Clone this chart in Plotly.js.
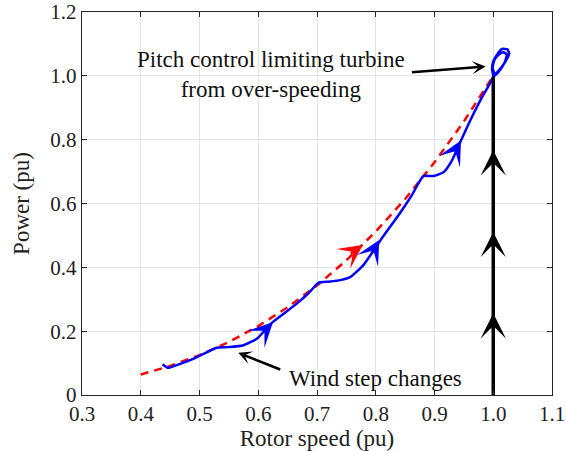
<!DOCTYPE html>
<html>
<head>
<meta charset="utf-8">
<script src="https://cdn.plot.ly/plotly-3.0.1.min.js"></script>
<style>html,body{margin:0;padding:0;background:#fff;}#chart{width:566px;height:451px;}</style>
</head>
<body>
<div id="chart"></div>
<script>
// Optimal power curve (red dashed)
const redX = [0.40, 0.45, 0.50, 0.55, 0.60, 0.65, 0.70, 0.75, 0.80, 0.85, 0.90, 0.95, 1.00];
const redY = [0.064, 0.091, 0.125, 0.166, 0.216, 0.275, 0.343, 0.422, 0.512, 0.614, 0.729, 0.857, 1.000];

// Simulated trajectory (blue)
const blueX = [0.437, 0.447, 0.460, 0.484, 0.505, 0.529, 0.549, 0.575, 0.598, 0.623, 0.645, 0.666, 0.685, 0.703, 0.720, 0.740, 0.757, 0.779, 0.799, 0.810, 0.842, 0.862, 0.881, 0.898, 0.916, 0.930, 0.944, 0.961, 0.980, 1.000,
               0.998, 1.000, 1.007, 1.015, 1.024, 1.027, 1.021, 1.010, 1.003, 0.999, 1.002, 1.009, 1.017, 1.023, 1.019, 1.008, 1.000];
const blueY = [0.096, 0.085, 0.093, 0.109, 0.127, 0.148, 0.150, 0.156, 0.177, 0.226, 0.257, 0.287, 0.318, 0.352, 0.355, 0.360, 0.370, 0.407, 0.460, 0.490, 0.572, 0.628, 0.686, 0.686, 0.699, 0.736, 0.793, 0.861, 0.930, 0.997,
               1.020, 1.045, 1.068, 1.084, 1.083, 1.070, 1.045, 1.018, 1.005, 1.025, 1.050, 1.066, 1.074, 1.067, 1.040, 1.010, 0.997];

// Start-up at rated speed (black)
const blackX = [1.0, 1.0];
const blackY = [0.0, 0.997];

// Direction arrows: tail -> tip
const blueArrowTailX = [0.606, 0.792, 0.937];
const blueArrowTailY = [0.193, 0.440, 0.770];
const blueArrowTipX  = [0.625, 0.806, 0.945];
const blueArrowTipY  = [0.228, 0.486, 0.797];
const redArrowTailX = [0.755];
const redArrowTailY = [0.440];
const redArrowTipX  = [0.778];
const redArrowTipY  = [0.470];
const blackArrowX    = [1.0, 1.0, 1.0];
const blackArrowTail = [0.20, 0.46, 0.71];
const blackArrowTip  = [0.256, 0.511, 0.767];

// Text labels
const labelText  = ["Pitch control limiting turbine<br>from over-speeding", "Wind step changes"];
const labelX     = [0.622, 0.799];
const labelY     = [1.003, 0.053];
const labelArrowTailX = [0.859, 0.640];
const labelArrowTailY = [1.011, 0.078];
const labelArrowTipX  = [0.987, 0.566];
const labelArrowTipY  = [1.029, 0.132];

const xTicks = [0.3, 0.4, 0.5, 0.6, 0.7, 0.8, 0.9, 1.0, 1.1];
const xTickText = ["0.3", "0.4", "0.5", "0.6", "0.7", "0.8", "0.9", "1.0", "1.1"];
const yTicks = [0, 0.2, 0.4, 0.6, 0.8, 1.0, 1.2];
const yTickText = ["0", "0.2", "0.4", "0.6", "0.8", "1.0", "1.2"];

const FONT = "Liberation Serif";

const traces = [
  {x: redX, y: redY, mode: "lines", line: {color: "#ff0000", width: 2.5, dash: "8px,6px"}, hoverinfo: "skip"},
  {x: blueX, y: blueY, mode: "lines", line: {color: "#0000ff", width: 2.5, shape: "spline", smoothing: 0.5}, hoverinfo: "skip"},
  {x: blackX, y: blackY, mode: "lines", line: {color: "#000000", width: 3.5}, hoverinfo: "skip"}
];

const annotations = [];
function arrow(tx, ty, hx, hy, color, w, size, head) {
  annotations.push({x: hx, y: hy, ax: tx, ay: ty, xref: "x", yref: "y", axref: "x", ayref: "y",
    text: "", showarrow: true, arrowhead: head, arrowsize: size, arrowwidth: w, arrowcolor: color, standoff: 0});
}
for (let i = 0; i < blueArrowTipX.length; i++) arrow(blueArrowTailX[i], blueArrowTailY[i], blueArrowTipX[i], blueArrowTipY[i], "#0000ff", 2.5, 1.6, 3);
for (let i = 0; i < redArrowTipX.length; i++) arrow(redArrowTailX[i], redArrowTailY[i], redArrowTipX[i], redArrowTipY[i], "#ff0000", 2.5, 1.6, 3);
for (let i = 0; i < blackArrowX.length; i++) arrow(blackArrowX[i], blackArrowTail[i], blackArrowX[i], blackArrowTip[i], "#000000", 3, 1.4, 3);
for (let i = 0; i < labelText.length; i++) {
  annotations.push({x: labelX[i], y: labelY[i], xref: "x", yref: "y", text: labelText[i], showarrow: false,
    font: {family: FONT, size: 23, color: "#111"}, align: "center"});
  arrow(labelArrowTailX[i], labelArrowTailY[i], labelArrowTipX[i], labelArrowTipY[i], "#000000", 2.5, 0.9, 3);
}

const axisCommon = {
  showline: true, linecolor: "#262626", linewidth: 1.2, mirror: "ticks",
  ticks: "inside", ticklen: 5, tickcolor: "#262626", tickwidth: 1,
  showgrid: true, gridcolor: "#e3e3e3", gridwidth: 1, zeroline: false,
  tickfont: {family: FONT, size: 21, color: "#222"}, tickmode: "array"
};

const layout = {
  width: 566, height: 451,
  margin: {l: 82, r: 14, t: 12, b: 56},
  paper_bgcolor: "#ffffff", plot_bgcolor: "#ffffff",
  font: {family: FONT, color: "#222"},
  showlegend: false,
  xaxis: Object.assign({}, axisCommon, {range: [0.3, 1.1], tickvals: xTicks, ticktext: xTickText,
    title: {text: "Rotor speed (pu)", font: {family: FONT, size: 23, color: "#222"}, standoff: 6}}),
  yaxis: Object.assign({}, axisCommon, {range: [0, 1.2], tickvals: yTicks, ticktext: yTickText,
    title: {text: "Power (pu)", font: {family: FONT, size: 23, color: "#222"}, standoff: 14}}),
  annotations: annotations
};

Plotly.newPlot("chart", traces, layout, {displayModeBar: false, staticPlot: true});
</script>
</body>
</html>
